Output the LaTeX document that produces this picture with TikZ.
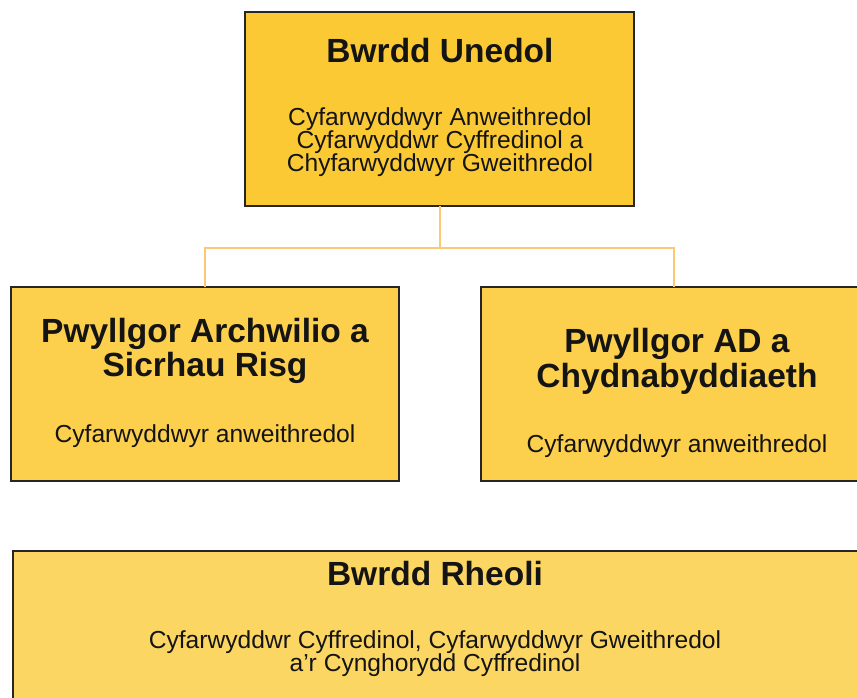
\documentclass[tikz,border=0pt]{standalone}
\usepackage{fontspec}
\setmainfont{Liberation Sans}
\definecolor{topc}{RGB}{251,201,52}
\definecolor{sidec}{RGB}{252,208,76}
\definecolor{botc}{RGB}{252,214,98}
\definecolor{boxline}{RGB}{38,38,38}
\definecolor{linkc}{RGB}{252,200,115}
\definecolor{txt}{RGB}{20,20,20}
\begin{document}
\begin{tikzpicture}[x=1pt,y=-1pt,
  box/.style={draw=boxline, line width=2pt, inner sep=0pt, outer sep=0pt},
  ttl/.style={anchor=base, font=\fontsize{33.5}{38}\selectfont\bfseries, text=txt, inner sep=0pt},
  bod/.style={anchor=base, font=\fontsize{24.6}{28}\selectfont, text=txt, inner sep=0pt},
  link/.style={draw=linkc, line width=2pt}]
\useasboundingbox (0,0) rectangle (857,697);
\clip (0,0) rectangle (857,697);
% boxes
\node[box, fill=topc, minimum width=389pt, minimum height=194pt] (top) at (439.5,109) {};
\node[box, fill=sidec, minimum width=388pt, minimum height=194pt] (left) at (205,384) {};
\node[box, fill=sidec, minimum width=390pt, minimum height=194pt] (right) at (676,384) {};
\node[box, fill=botc, minimum width=850pt, minimum height=200pt] (bottom) at (438,651) {};
% connectors
\coordinate (mid) at (440,247.5);
\coordinate (lj) at (205,247.5);
\coordinate (rj) at (674,247.5);
\draw[link] (top.south -| mid) -- (mid);
\draw[link] (left.north -| lj) -- (lj) -- (rj) -- (right.north -| rj);
% top text
\node[ttl] (t1) at (440,62) {Bwrdd Unedol};
\node[bod] (t2) at (440,125) {Cyfarwyddwyr Anweithredol};
\node[bod] (t3) at (440,148) {Cyfarwyddwr Cyffredinol a};
\node[bod] (t4) at (440,171) {Chyfarwyddwyr Gweithredol};
% left text
\node[ttl] (l1) at (205,342) {Pwyllgor Archwilio a};
\node[ttl] (l2) at (205,376) {Sicrhau Risg};
\node[bod] (l3) at (205,442) {Cyfarwyddwyr anweithredol};
% right text
\node[ttl] (r1) at (677,352) {Pwyllgor AD a};
\node[ttl] (r2) at (677,387) {Chydnabyddiaeth};
\node[bod] (r3) at (677,452) {Cyfarwyddwyr anweithredol};
% bottom text
\node[ttl] (b1) at (435,585) {Bwrdd Rheoli};
\node[bod] (b2) at (435,648) {Cyfarwyddwr Cyffredinol, Cyfarwyddwyr Gweithredol};
\node[bod] (b3) at (435,671) {a’r Cynghorydd Cyffredinol};
\end{tikzpicture}
\end{document}
